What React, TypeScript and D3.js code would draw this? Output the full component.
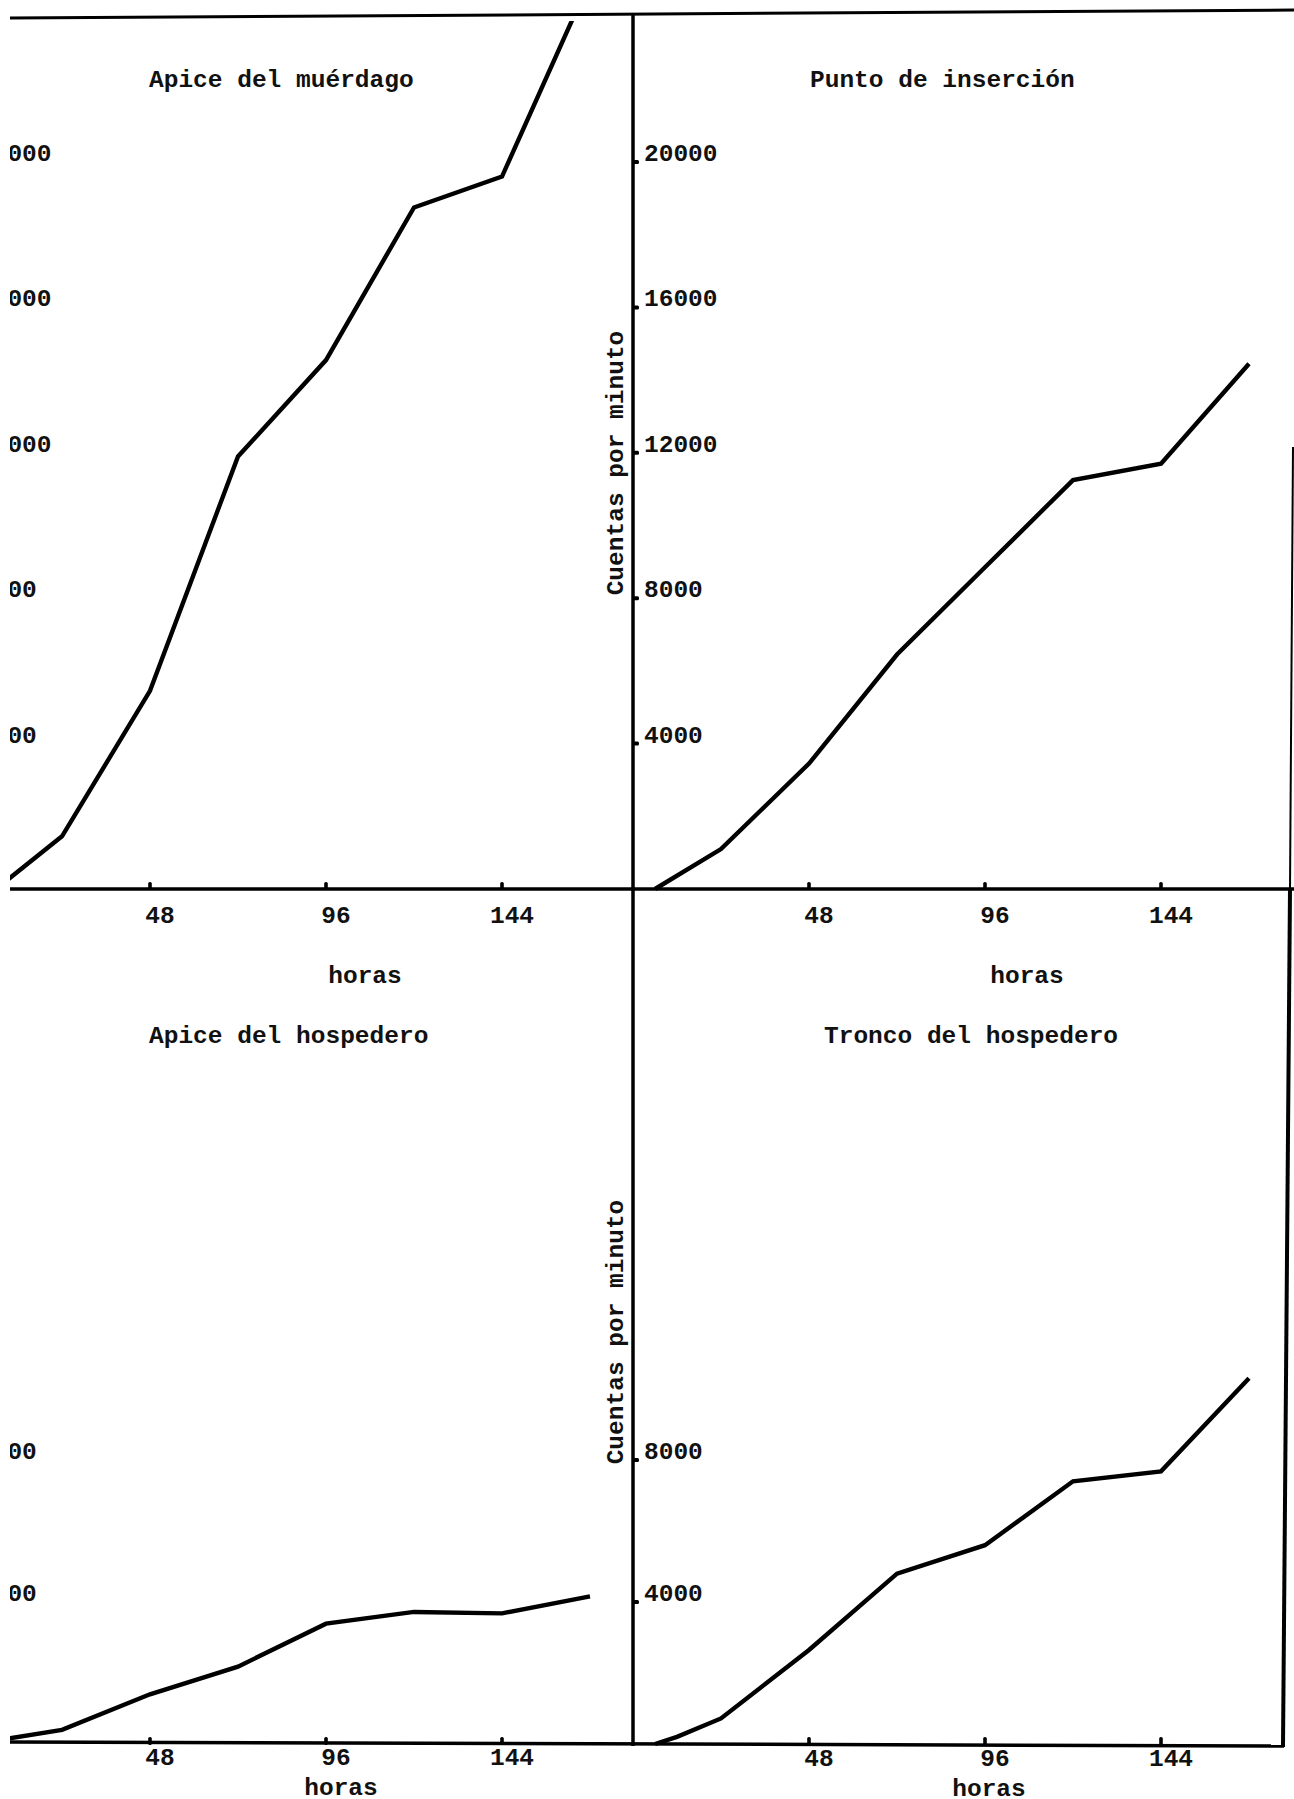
import React from 'react';
import * as d3 from 'd3';

// horas de muestreo
const hours = [6, 24, 48, 72, 96, 120, 144, 168];
const troncoHours = [6, 12, 24, 48, 72, 96, 120, 144, 168];

// cuentas por minuto
const apiceMuerdago = [0, 1450, 5450, 11900, 14550, 18750, 19600, 25000];
const puntoInsercion = [0, 1100, 3450, 6450, 8850, 11250, 11700, 14450];
const apiceHospedero = [100, 400, 1400, 2180, 3390, 3720, 3680, 4160];
const troncoHospedero = [0, 200, 720, 2650, 4800, 5600, 7400, 7680, 10300];

const xTicks = [48, 96, 144];
const topYTicks = [4000, 8000, 12000, 16000, 20000];
const bottomYTicks = [4000, 8000];

const FONT = "'Liberation Mono', 'DejaVu Sans Mono', monospace";
const FS = 24.5;

type PanelProps = {
  axisX: number;
  labelDx: number;
  zeroY: number;
  tickY: number;
  tickVal: number;
  yTicks: number[];
  xs: number[];
  ys: number[];
  title: string;
  titleX: number;
  titleY: number;
  xLabelY: number;
  horasX: number;
  horasY: number;
};

const txt = { fontFamily: FONT, fontSize: FS, fontWeight: 700, fill: '#111' } as const;

const Panel = (p: PanelProps) => {
  const x = d3.scaleLinear().domain([0, 48]).range([p.axisX, p.axisX + 176]);
  const y = d3.scaleLinear().domain([0, p.tickVal]).range([p.zeroY, p.tickY]);
  const line = d3.line<number>()
    .x((d, i) => x(p.xs[i]))
    .y(d => y(d));
  return (
    <g>
      <path d={line(p.ys) || ''} fill="none" stroke="#000" strokeWidth={4.4}
        strokeLinejoin="miter" clipPath="url(#dataClip)" />
      {xTicks.map(t => (
        <g key={t}>
          <rect x={x(t) - 1.8} y={p.zeroY - 7} width={3.6} height={8} rx={1.6} fill="#000" />
          <text x={x(t) + 10} y={p.xLabelY} textAnchor="middle" style={txt}>{t}</text>
        </g>
      ))}
      {p.yTicks.map(t => (
        <g key={t}>
          <rect x={p.axisX} y={y(t) - 2} width={6} height={4} rx={1.5} fill="#000" />
          <text x={p.axisX + p.labelDx} y={y(t) - 1} style={txt}>{t}</text>
        </g>
      ))}
      <text x={p.titleX} y={p.titleY} style={txt}>{p.title}</text>
      <text x={p.horasX} y={p.horasY} textAnchor="middle" style={txt}>horas</text>
    </g>
  );
};

const App = () => {
  return (
    <svg width={1294} height={1799} style={{ position: 'absolute', left: 0, top: 0, background: '#fff' }}>
      <defs>
        <clipPath id="page"><rect x={10} y={0} width={1284} height={1799} /></clipPath>
        <clipPath id="dataClip"><rect x={10} y={21} width={1284} height={1778} /></clipPath>
      </defs>
      <g clipPath="url(#page)">
        {/* marco */}
        <line x1={10} y1={18} x2={1294} y2={10} stroke="#000" strokeWidth={3} />
        <line x1={633} y1={14} x2={633} y2={1746} stroke="#000" strokeWidth={3.5} />
        <line x1={10} y1={889} x2={1294} y2={889} stroke="#000" strokeWidth={3.5} />
        <line x1={10} y1={1742} x2={1284} y2={1746} stroke="#000" strokeWidth={3.5} />
        <line x1={1293} y1={447} x2={1290} y2={889} stroke="#000" strokeWidth={2} />
        <line x1={1290} y1={889} x2={1283} y2={1747} stroke="#000" strokeWidth={4} />

        <Panel axisX={-26} labelDx={4} zeroY={889} tickY={162} tickVal={20000} yTicks={topYTicks}
          xs={hours} ys={apiceMuerdago} title="Apice del muérdago" titleX={149} titleY={87}
          xLabelY={923} horasX={365} horasY={983} />
        <Panel axisX={633} labelDx={11} zeroY={889} tickY={162} tickVal={20000} yTicks={topYTicks}
          xs={hours} ys={puntoInsercion} title="Punto de inserción" titleX={810} titleY={87}
          xLabelY={923} horasX={1027} horasY={983} />
        <Panel axisX={-26} labelDx={4} zeroY={1744} tickY={1460} tickVal={8000} yTicks={bottomYTicks}
          xs={hours} ys={apiceHospedero} title="Apice del hospedero" titleX={149} titleY={1043}
          xLabelY={1765} horasX={341} horasY={1795} />
        <Panel axisX={633} labelDx={11} zeroY={1744} tickY={1460} tickVal={8000} yTicks={bottomYTicks}
          xs={troncoHours} ys={troncoHospedero} title="Tronco del hospedero" titleX={824} titleY={1043}
          xLabelY={1766} horasX={989} horasY={1796} />

        <text transform="translate(616,463) rotate(-90)" textAnchor="middle" dominantBaseline="central" style={txt}>
          Cuentas por minuto
        </text>
        <text transform="translate(616,1332) rotate(-90)" textAnchor="middle" dominantBaseline="central" style={txt}>
          Cuentas por minuto
        </text>
      </g>
    </svg>
  );
};

export default App;
